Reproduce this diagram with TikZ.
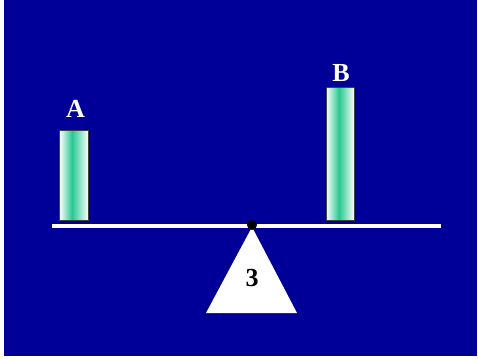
\documentclass[tikz,border=0pt]{standalone}
\usepackage{fontspec}
\setmainfont{Liberation Serif}
\definecolor{bgblue}{RGB}{0,0,153}
\definecolor{barmid}{RGB}{40,200,145}
\tikzset{
  lbl/.style={text=white,font=\bfseries\fontsize{26}{26}\selectfont,inner sep=0pt},
  barframe/.style={draw=black!75,line width=1pt},
}
\begin{document}
\begin{tikzpicture}[x=1pt,y=-1pt]
\useasboundingbox (0,0) rectangle (478,360);
\fill[white] (0,0) rectangle (478,360);
\fill[bgblue] (4,0) rectangle (477,356);
% bar A
\shade[left color=white,right color=barmid] (59.5,130) rectangle (72,220);
\shade[left color=barmid,right color=white] (72,130) rectangle (88.5,220);
\draw[barframe] (59.5,130) rectangle (88.5,220);
% bar B
\shade[left color=white,right color=barmid] (326,87) rectangle (339,220);
\shade[left color=barmid,right color=white] (339,87) rectangle (354.5,220);
\draw[barframe] (326,87) rectangle (354.5,220);
\node[lbl] (A) at (75.5,109) {A};
\node[lbl] (B) at (341,73) {B};
% beam
\fill[white] (52,224) rectangle (441,228);
% fulcrum
\fill[white] (252,227) -- (297,313) -- (206,313) -- cycle;
\fill[black] (252,225) circle (5);
\node[font=\bfseries\fontsize{26}{26}\selectfont,inner sep=0pt] (three) at (252,278) {3};
\end{tikzpicture}
\end{document}
